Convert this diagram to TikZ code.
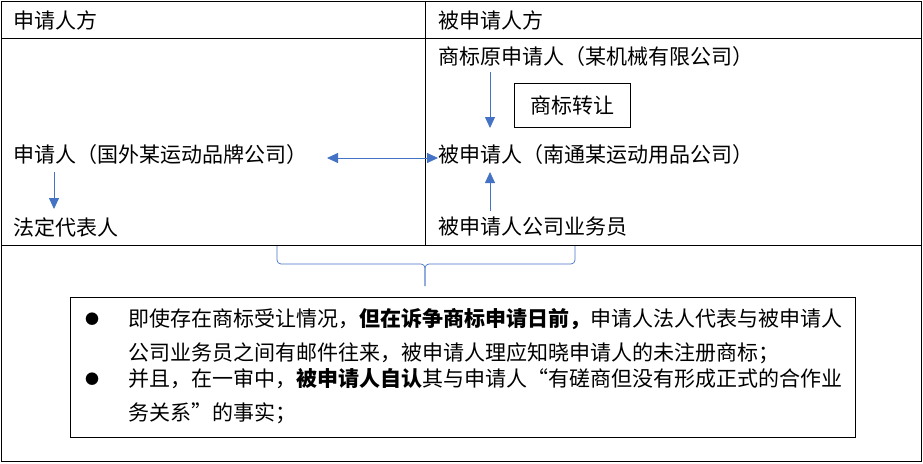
\documentclass[tikz,border=0pt]{standalone}
\usepackage{fontspec}
\setmainfont{Noto Sans CJK SC}
\usepackage{xcolor}
\definecolor{wordblue}{RGB}{68,114,196}
\usetikzlibrary{calc}
\usetikzlibrary{positioning}
\usetikzlibrary{arrows.meta}

\begin{document}
\begin{tikzpicture}[x=1pt,y=-1pt,
  >={Triangle[length=11pt,width=10pt]},
  every node/.style={inner sep=0pt,font=\fontsize{21}{25}\selectfont},
  flow/.style={draw=wordblue,fill=wordblue,line width=0.8pt},
  ]
  \useasboundingbox (0,0) rectangle (923,463);

  % table frame
  \begin{scope}[line width=0.8pt]
    \draw (1,1) rectangle (921,461);
    \foreach \y in {38,245} {
      \draw (1,\y) -- (921,\y);
    }
    \draw (425,1) -- (425,245);
  \end{scope}

  \begin{scope}[every node/.append style={anchor=west}]
    \node (lhead) at (13,20) {申请人方};
    \node (rhead) at (438,20) {被申请人方};
    \node (applicant) at (13,155) {申请人（国外某运动品牌公司）};
    \node (legalrep) at (13,227) {法定代表人};
    \node (origin) at (438,57) {商标原申请人（某机械有限公司）};
    \node (respondent) at (438,155) {被申请人（南通某运动用品公司）};
    \node (staff) at (438,227) {被申请人公司业务员};
  \end{scope}

  \node [draw, line width=0.8pt, minimum width=116pt, minimum height=44pt] at (572,105) (transfer) {商标转让};

  \coordinate (lx) at (54,0);
  \coordinate (rx) at (490,0);

  \draw [flow,->] ($(applicant.west -| lx)+(0,17)$) -- ($(legalrep.west -| lx)+(0,-18)$);
  \draw [flow,->] ($(origin.west -| rx)+(0,15)$) -- ($(respondent.west -| rx)+(0,-27)$);
  \draw [flow,->] ($(staff.west -| rx)+(0,-16)$) -- ($(respondent.west -| rx)+(0,17)$);
  \draw [flow,<->] ($(applicant.west)+(314,3)$) -- ($(respondent.west)+(0,3)$);

  % brace
  \coordinate (tip) at (425,286);
  \foreach \x in {277,575} {
    \draw [wordblue, line width=0.7pt, rounded corners=4pt] (\x,246) -- (\x,264) -- (425,264) -- (tip);
  }

  % summary box
  \node [draw, line width=0.8pt, minimum width=785pt, minimum height=140pt] at (462.5,367) (summary) {};

  \foreach \y [count=\i] in {319,379} {
    \node (bullet\i) at (92,\y) {\fontsize{14}{14}\selectfont ●};
  }

  \begin{scope}[every node/.append style={anchor=west}]
    \node (point1a) at (128,319) {即使存在商标受让情况，\textbf{但在诉争商标申请日前，}申请人法人代表与被申请人};
    \node (point1b) at (128,353) {公司业务员之间有邮件往来，被申请人理应知晓申请人的未注册商标；};
    \node (point2a) at (128,379) {并且，在一审中，\textbf{被申请人自认}其与申请人“有磋商但没有形成正式的合作业};
    \node (point2b) at (128,413) {务关系”的事实；};
  \end{scope}
\end{tikzpicture}
\end{document}
